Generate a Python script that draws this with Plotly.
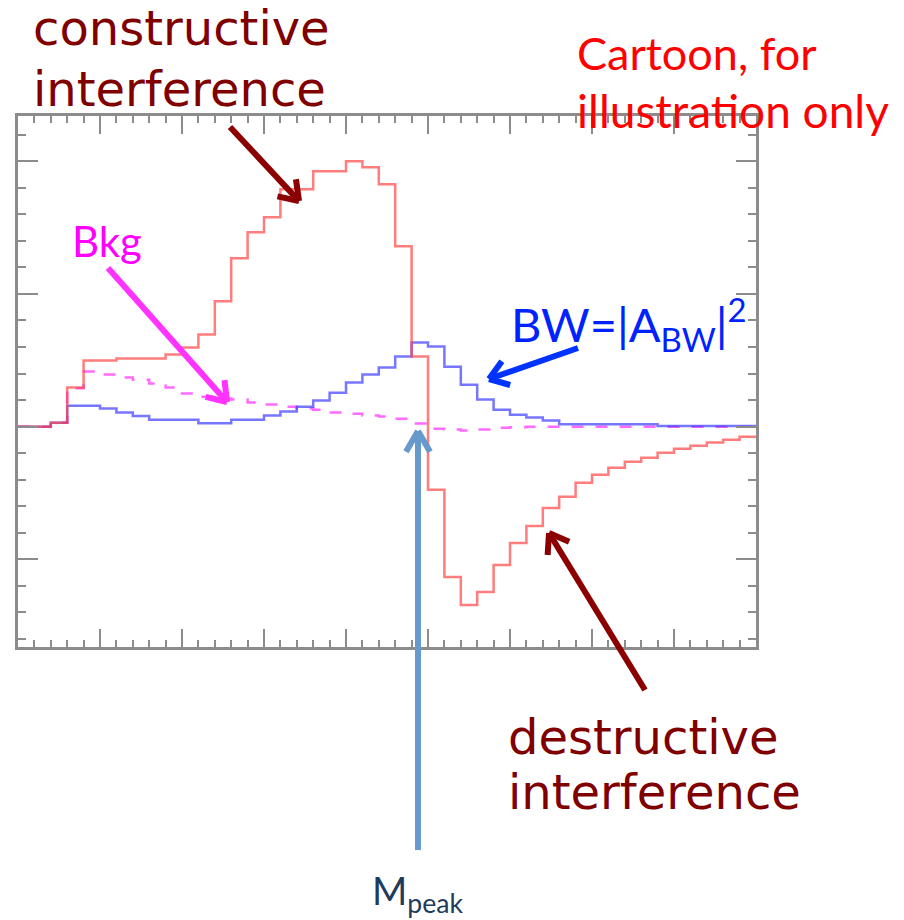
import math
import plotly.graph_objects as go

# ---------------- data (bin index 0..44) ----------------
bin_edges = list(range(46))
interference = [0, 0, 0.15, 1.47, 2.49, 2.49, 2.57, 2.57, 2.57, 2.72,
                2.98, 3.47, 4.72, 6.34, 7.32, 7.89, 8.94, 8.94, 9.62, 9.62,
                10.0, 9.77, 9.13, 6.79, 2.64, -2.38, -5.66, -6.72, -6.23, -5.21,
                -4.38, -3.74, -3.06, -2.64, -2.11, -1.81, -1.55, -1.32, -1.17, -0.98,
                -0.83, -0.72, -0.60, -0.49, -0.38]
breit_wigner = [0, 0, 0.15, 0.79, 0.79, 0.68, 0.53, 0.40, 0.26, 0.26,
                0.26, 0.13, 0.13, 0.26, 0.26, 0.42, 0.57, 0.75, 0.98, 1.28,
                1.66, 1.96, 2.23, 2.64, 3.17, 3.02, 2.26, 1.58, 1.02, 0.64,
                0.45, 0.34, 0.23, 0.09, 0.09, 0.09, 0.09, 0.09, 0.09, 0.02,
                0.02, 0.02, 0.02, 0.02, 0.02]
background = [0, 0, 0.15, 1.45, 2.08, 1.96, 1.85, 1.77, 1.62, 1.47,
              1.25, 1.13, 1.06, 1.02, 0.91, 0.83, 0.75, 0.68, 0.64, 0.53,
              0.49, 0.42, 0.38, 0.30, 0.12, -0.08, -0.11, -0.15, -0.11, -0.04,
              -0.02, 0, 0, 0, 0, 0, 0, 0, 0, 0,
              0, 0, 0, 0, 0]

W, H = 904, 920
L_, R_, T_, B_ = 18, 756, 116, 647


def step(vals):
    return vals + [vals[-1]]


fig = go.Figure()
fig.add_trace(go.Scatter(x=bin_edges, y=step(background), mode="lines", line_shape="hv",
                         line=dict(color="rgba(255,80,255,0.85)", width=2.5, dash="12px,12px"),
                         showlegend=False, hoverinfo="skip"))
fig.add_trace(go.Scatter(x=bin_edges, y=step(breit_wigner), mode="lines", line_shape="hv",
                         line=dict(color="rgba(60,60,255,0.7)", width=2.5),
                         showlegend=False, hoverinfo="skip"))
fig.add_trace(go.Scatter(x=bin_edges, y=step(interference), mode="lines", line_shape="hv",
                         line=dict(color="rgba(255,70,70,0.7)", width=2.5),
                         showlegend=False, hoverinfo="skip"))

axis_col = "#8c8c8c"
fig.update_xaxes(range=[0, 45], showgrid=False, zeroline=False, showline=True, linecolor=axis_col,
                 linewidth=3, mirror="allticks", ticks="inside", ticklen=18, tickwidth=2,
                 tickcolor=axis_col, tick0=0, dtick=5, showticklabels=False,
                 minor=dict(ticks="inside", ticklen=7, tickwidth=2, tickcolor=axis_col, dtick=1))
fig.update_yaxes(range=[-8.3, 11.7], showgrid=False, zeroline=False, showline=True, linecolor=axis_col,
                 linewidth=3, mirror="allticks", ticks="inside", ticklen=20, tickwidth=2,
                 tickcolor=axis_col, tick0=0, dtick=5, showticklabels=False,
                 minor=dict(ticks="inside", ticklen=8, tickwidth=2, tickcolor=axis_col, dtick=1))


def px(x):
    return (x - L_) / (R_ - L_)


def py(y):
    return (B_ - y) / (B_ - T_)


shapes = []


def arrow(x0, y0, x1, y1, color, width, head=22, ang=35):
    shapes.append(dict(type="line", xref="paper", yref="paper", x0=px(x0), y0=py(y0),
                       x1=px(x1), y1=py(y1), line=dict(color=color, width=width)))
    dx, dy = x1 - x0, y1 - y0
    n = math.hypot(dx, dy)
    ux, uy = dx / n, dy / n
    for s in (1, -1):
        a = math.radians(ang * s)
        rx = ux * math.cos(a) - uy * math.sin(a)
        ry = ux * math.sin(a) + uy * math.cos(a)
        shapes.append(dict(type="line", xref="paper", yref="paper", x0=px(x1), y0=py(y1),
                           x1=px(x1 - head * rx), y1=py(y1 - head * ry),
                           line=dict(color=color, width=width)))


arrow(230, 127, 299, 201, "#8b0000", 6)
arrow(108, 268, 227, 402, "#ff33ff", 6)
arrow(578, 348, 489, 379, "#0033ff", 6)
arrow(418, 850, 418, 431, "#6699cc", 6, head=24, ang=30)
arrow(645, 690, 549, 533, "#8b0000", 6)
fig.update_layout(shapes=shapes)

annots = []


def text(t, x, y, color, size, family, anchor="left"):
    annots.append(dict(text=t, xref="paper", yref="paper", x=px(x), y=py(y), showarrow=False,
                       xanchor=anchor, yanchor="middle", font=dict(color=color, size=size, family=family)))


comic = "DejaVu Sans"
cal = "Lato"
text("constructive", 31, 28, "#800000", 48, comic)
text("interference", 31, 89, "#800000", 48, comic)
text("destructive", 506, 737, "#800000", 48, comic)
text("interference", 506, 792, "#800000", 48, comic)
text("Cartoon, for", 575, 53, "#ff0000", 45, cal)
text("illustration only", 575, 111, "#ff0000", 46, cal)
text("Bkg", 70, 241, "#ff00ff", 42, cal)
text("BW=|A<sub>BW</sub>|<sup>2</sup>", 509, 324, "#0022ff", 47, cal)
text("M<sub>peak</sub>", 370, 893, "#1f3b5c", 38, cal)
fig.update_layout(annotations=annots)

fig.update_layout(width=W, height=H, margin=dict(l=L_, r=W - R_, t=T_, b=H - B_),
                  plot_bgcolor="white", paper_bgcolor="white", showlegend=False)
fig.write_html("out.html")
